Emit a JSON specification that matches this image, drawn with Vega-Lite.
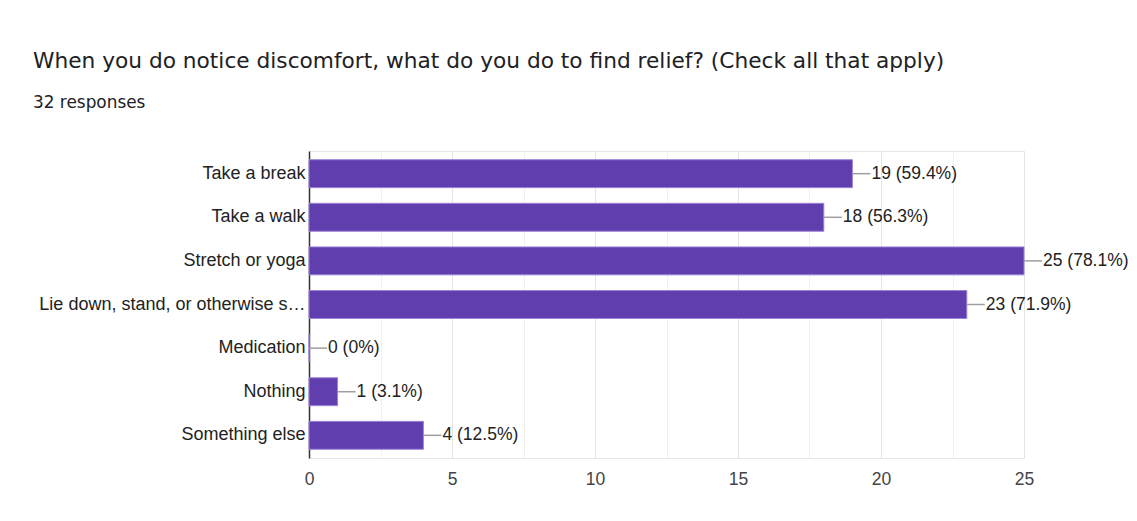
{
  "$schema": "https://vega.github.io/schema/vega-lite/v6.json",
  "autosize": "none",
  "width": 715,
  "height": 307,
  "padding": {"left": 309, "top": 151, "right": 113, "bottom": 63},
  "background": "white",
  "title": {
    "text": "When you do notice discomfort, what do you do to find relief? (Check all that apply)",
    "subtitle": "32 responses",
    "anchor": "start",
    "frame": "group",
    "dx": -276,
    "offset": 40,
    "font": "DejaVu Sans",
    "fontSize": 21.7,
    "fontWeight": "normal",
    "color": "#202124",
    "subtitleFont": "DejaVu Sans",
    "subtitleFontSize": 16.9,
    "subtitleColor": "#202124",
    "subtitlePadding": 22
  },
  "data": {
    "values": [
      {"option": "Take a break", "count": 19, "label": "19 (59.4%)"},
      {"option": "Take a walk", "count": 18, "label": "18 (56.3%)"},
      {"option": "Stretch or yoga", "count": 25, "label": "25 (78.1%)"},
      {"option": "Lie down, stand, or otherwise s…", "count": 23, "label": "23 (71.9%)"},
      {"option": "Medication", "count": 0, "label": "0 (0%)"},
      {"option": "Nothing", "count": 1, "label": "1 (3.1%)"},
      {"option": "Something else", "count": 4, "label": "4 (12.5%)"}
    ]
  },
  "encoding": {
    "y": {
      "field": "option",
      "type": "nominal",
      "sort": null,
      "scale": {"paddingInner": 0.36, "paddingOuter": 0.2},
      "axis": {
        "title": null,
        "domain": true,
        "domainColor": "#333333",
        "domainWidth": 1.5,
        "ticks": false,
        "grid": false,
        "labelPadding": 4,
        "labelFont": "Liberation Sans",
        "labelFontSize": 18,
        "labelColor": "#222222",
        "labelLimit": 300
      }
    },
    "x": {
      "field": "count",
      "type": "quantitative",
      "scale": {"domain": [0, 25], "nice": false},
      "axis": {
        "title": null,
        "domain": false,
        "ticks": false,
        "grid": true,
        "labelFlush": false,
        "values": [0, 2.5, 5, 7.5, 10, 12.5, 15, 17.5, 20, 22.5, 25],
        "labelExpr": "datum.value % 5 === 0 ? datum.label : ''",
        "gridColor": {"condition": {"test": "datum.value % 5 === 0", "value": "#e4e4e4"}, "value": "#f1f1f1"},
        "labelPadding": 12,
        "labelFont": "Liberation Sans",
        "labelFontSize": 17.5,
        "labelColor": "#444444"
      }
    }
  },
  "layer": [
    {
      "mark": {"type": "bar", "color": "#603eae", "stroke": "#9a82d6", "strokeWidth": 1}
    },
    {
      "mark": {"type": "rule", "color": "#9e9e9e", "strokeWidth": 1.5, "x2Offset": 18},
      "encoding": {"x2": {"field": "count"}}
    },
    {
      "mark": {"type": "text", "align": "left", "baseline": "middle", "dx": 19, "font": "Liberation Sans", "fontSize": 17.5, "color": "#222222"},
      "encoding": {"text": {"field": "label"}}
    }
  ],
  "config": {
    "view": {"stroke": "#e6e6e6"}
  }
}
